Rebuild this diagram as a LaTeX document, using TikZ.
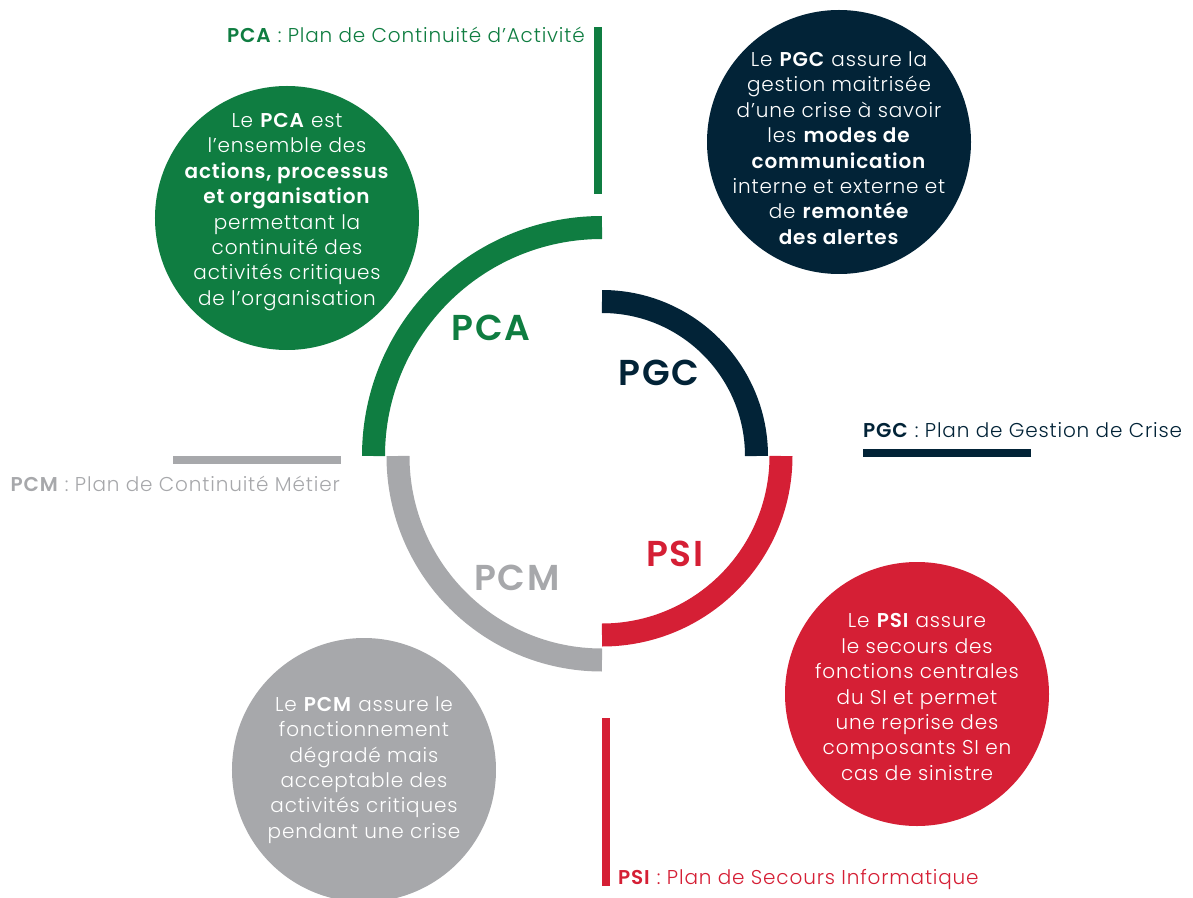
\documentclass[tikz,border=0pt]{standalone}
\usepackage{fontspec}
\setmainfont{Poppins}[UprightFont=* Light,BoldFont=* SemiBold,LetterSpace=4.2]
\definecolor{pcavert}{HTML}{0F7D41}
\definecolor{pgcbleu}{HTML}{022337}
\definecolor{psirouge}{HTML}{D51F35}
\definecolor{pcmgris}{HTML}{A7A8AB}

\begin{document}
\begin{tikzpicture}[x=1pt,y=1pt]
  \tikzstyle{bulle}=[circle,minimum size=264pt,inner sep=0pt]
  \tikzstyle{texte bulle}=[inner sep=0pt,text=white,align=center,font=\fontsize{20}{25.4}\selectfont]
  \tikzstyle{legende}=[inner sep=0pt,font=\fontsize{20}{24}\selectfont]
  \tikzstyle{sigle}=[inner sep=0pt,font=\fontsize{36}{40}\selectfont\bfseries]
  \tikzstyle{anneau}=[line width=23pt]

  \useasboundingbox (-602,-441) rectangle (591,456);

  % Anneau en quatre quarts
  \draw[anneau,pcavert] (0,228.5) arc[start angle=90,end angle=180,radius=228.5pt];
  \draw[anneau,pgcbleu] (0,154.5) arc[start angle=90,end angle=0,radius=154.5pt];
  \draw[anneau,psirouge] (179,0) arc[start angle=0,end angle=-90,radius=179pt];
  \draw[anneau,pcmgris] (-204,0) arc[start angle=180,end angle=270,radius=204pt];

  % Sigles dans l'anneau
  \node[sigle,text=pcavert] (pca) at (-111,128) {PCA};
  \node[sigle,text=pgcbleu] (pgc) at (57,83) {PGC};
  \node[sigle,text=psirouge] (psi) at (73,-98) {PSI};
  \node[sigle,text=pcmgris] (pcm) at (-85,-122) {PCM};

  % Barres
  \fill[pcavert] (-8,262) rectangle (0,429);
  \fill[pgcbleu] (261,-0.5) rectangle (429,7.5);
  \fill[psirouge] (0,-262) rectangle (8,-430);
  \fill[pcmgris] (-429,0) rectangle (-261,-8);

  % Legendes
  \node[legende,text=pcavert,anchor=base east] (pcaleg) at (-17,413)
    {\textbf{PCA} : Plan de Continuité d’Activité};
  \node[legende,text=pgcbleu,anchor=base west] (pgcleg) at (261,19)
    {\textbf{PGC} : Plan de Gestion de Crise};
  \node[legende,text=pcmgris,anchor=base east] (pcmleg) at (-262,-35)
    {\textbf{PCM} : Plan de Continuité Métier};
  \node[legende,text=psirouge,anchor=base west] (psileg) at (16,-428)
    {\textbf{PSI} : Plan de Secours Informatique};

  % Bulle PCA
  \node[bulle,fill=pcavert] (pcabulle) at (-315,238) {};
  \node[texte bulle] (pcatexte) at ([yshift=6pt]pcabulle.center)
    {Le \textbf{PCA} est\\l’ensemble des\\\textbf{actions, processus}\\\textbf{et organisation}\\permettant la\\continuité des\\activités critiques\\de l’organisation};

  % Bulle PGC
  \node[bulle,fill=pgcbleu] (pgcbulle) at (237,314) {};
  \node[texte bulle] (pgctexte) at ([yshift=-6pt]pgcbulle.center)
    {Le \textbf{PGC} assure la\\gestion maitrisée\\d’une crise à savoir\\les \textbf{modes de}\\\textbf{communication}\\interne et externe et\\de \textbf{remontée}\\\textbf{des alertes}};

  % Bulle PSI
  \node[bulle,fill=psirouge] (psibulle) at (315,-238) {};
  \node[texte bulle] (psitexte) at ([yshift=-3pt]psibulle.center)
    {Le \textbf{PSI} assure\\le secours des\\fonctions centrales\\du SI et permet\\une reprise des\\composants SI en\\cas de sinistre};

  % Bulle PCM
  \node[bulle,fill=pcmgris] (pcmbulle) at (-238,-314) {};
  \node[texte bulle] (pcmtexte) at (pcmbulle.center)
    {Le \textbf{PCM} assure le\\fonctionnement\\dégradé mais\\acceptable des\\activités critiques\\pendant une crise};

\end{tikzpicture}
\end{document}
